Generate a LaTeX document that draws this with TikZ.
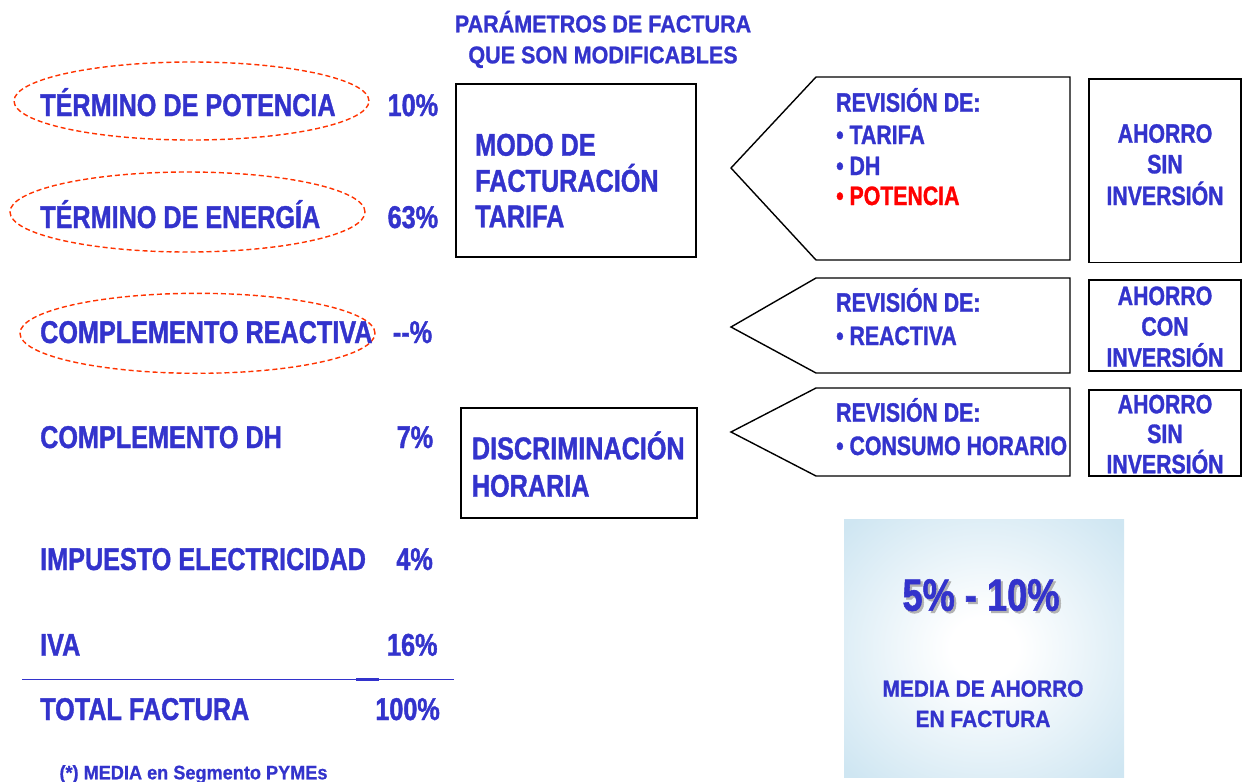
\documentclass[tikz,border=0pt]{standalone}
\usepackage{fontspec}
\setmainfont{Liberation Sans}
\newfontfamily\fcond{Liberation Sans}[FakeStretch=0.8, BoldFeatures={FakeBold=1.2}]
\newfontfamily\ftitle{Liberation Sans}[FakeStretch=0.89, BoldFeatures={FakeBold=1.0}]
\newfontfamily\ffoot{Liberation Sans}[FakeStretch=0.93, BoldFeatures={FakeBold=0.8}]
\usetikzlibrary{shapes.geometric}
\definecolor{txtblue}{RGB}{51,51,204}
\definecolor{ellred}{RGB}{255,51,0}
\definecolor{glowblue}{RGB}{207,230,242}
\definecolor{potred}{RGB}{255,0,0}
\pgfdeclareradialshading{glow}{\pgfpoint{0bp}{0bp}}{color(0bp)=(white); color(6bp)=(white); color(34bp)=(glowblue); color(50bp)=(glowblue)}
\begin{document}
\begin{tikzpicture}[x=1pt,y=-1pt,
  txt/.style={inner sep=0pt, text=txtblue},
  bigf/.style={font=\fcond\bfseries\fontsize{31.5}{36}\selectfont},
  midf/.style={font=\fcond\bfseries\fontsize{26.6}{31}\selectfont},
  lbl/.style={txt, bigf, anchor=base west},
  pct/.style={txt, bigf, anchor=base east},
  rtx/.style={txt, midf, anchor=base west},
  rctr/.style={txt, midf, anchor=base},
  ttl/.style={txt, anchor=base, font=\ftitle\bfseries\fontsize{24.2}{28}\selectfont},
  boxn/.style={draw=black, line width=1.6pt, inner sep=0pt},
  arrshape/.style={draw=black, line width=1.4pt, line join=miter},
  ellmark/.style={ellipse, draw=ellred, line width=1.4pt, dash pattern=on 5pt off 3pt, inner sep=0pt}
]
\useasboundingbox (0,0) rectangle (1248,782);

% title
\node[ttl] (t1) at (603,32.3) {PARÁMETROS DE FACTURA};
\node[ttl] (t2) at (603,63.3) {QUE SON MODIFICABLES};

% ellipses
\node[ellmark, minimum width=355pt, minimum height=78pt] (e1) at (191.5,101) {};
\node[ellmark, minimum width=355pt, minimum height=80pt] (e2) at (187.5,212) {};
\node[ellmark, minimum width=355pt, minimum height=80pt] (e3) at (197.5,333.3) {};

% left column
\node[lbl] (l1) at (40,116) {TÉRMINO DE POTENCIA};
\node[lbl] (l2) at (40,228) {TÉRMINO DE ENERGÍA};
\node[lbl] (l3) at (40,343) {COMPLEMENTO REACTIVA};
\node[lbl] (l4) at (40,448) {COMPLEMENTO DH};
\node[lbl] (l5) at (40,570) {IMPUESTO ELECTRICIDAD};
\node[lbl] (l6) at (40,655.7) {IVA};
\node[lbl] (l7) at (40,720) {TOTAL FACTURA};

\node[pct] (p1) at (438.3,116) {10\%};
\node[pct] (p2) at (438.3,228) {63\%};
\node[pct] (p3) at (432.3,343) {-{}-\%};
\node[pct] (p4) at (433.3,448) {7\%};
\node[pct] (p5) at (433,570) {4\%};
\node[pct] (p6) at (437.7,655.7) {16\%};
\node[pct] (p7) at (440,720) {100\%};

\coordinate (ls) at (22,679.3);
\coordinate (le) at (454,679.3);
\draw[txtblue, line width=1.3pt] (ls) -- (le);
\draw[txtblue, line width=2.6pt] (356,679.3) -- (379,679.3);

\node[txt, anchor=base west, font=\ffoot\bfseries\fontsize{19.5}{23}\selectfont] (fn) at (59.3,779.3) {(*) MEDIA en Segmento PYMEs};

% middle boxes
\node[boxn, minimum width=240pt, minimum height=172.7pt] (m1) at (576,170.35) {};
\node[lbl] (m1a) at (475,155.7) {MODO DE};
\node[lbl] (m1b) at (475,191.7) {FACTURACIÓN};
\node[lbl] (m1c) at (475,227.3) {TARIFA};

\node[boxn, minimum width=236pt, minimum height=110pt] (m2) at (578.7,462.7) {};
\node[lbl] (m2a) at (471.7,459.3) {DISCRIMINACIÓN};
\node[lbl] (m2b) at (471.7,496.7) {HORARIA};

% arrows
\draw[arrshape] (731,168) -- (816,77) -- (1070,77) -- (1070,260) -- (816,260) -- cycle;
\draw[arrshape] (731,327) -- (816,278) -- (1070,278) -- (1070,373) -- (816,373) -- cycle;
\draw[arrshape] (731,432) -- (816,388) -- (1070,388) -- (1070,476) -- (816,476) -- cycle;

\node[rtx] (a1a) at (836,111.7) {REVISIÓN DE:};
\node[rtx] (a1b) at (836,144) {• TARIFA};
\node[rtx] (a1c) at (836,175) {• DH};
\node[rtx, text=potred] (a1d) at (836,205) {• POTENCIA};

\node[rtx] (a2a) at (836,311.7) {REVISIÓN DE:};
\node[rtx] (a2b) at (836,345) {• REACTIVA};

\node[rtx] (a3a) at (836,421.7) {REVISIÓN DE:};
\node[rtx] (a3b) at (836,455) {• CONSUMO HORARIO};

% right boxes
\node[boxn, minimum width=152pt, minimum height=183.3pt] (b1) at (1165,170.65) {};
\node[rctr] (b1a) at (1165,142.7) {AHORRO};
\node[rctr] (b1b) at (1165,173.3) {SIN};
\node[rctr] (b1c) at (1165,205) {INVERSIÓN};

\node[boxn, minimum width=152pt, minimum height=90.7pt] (b2) at (1165,325.35) {};
\node[rctr] (b2a) at (1165,305) {AHORRO};
\node[rctr] (b2b) at (1165,335.7) {CON};
\node[rctr] (b2c) at (1165,366.7) {INVERSIÓN};

\node[boxn, minimum width=152pt, minimum height=86pt] (b3) at (1165,433) {};
\node[rctr] (b3a) at (1165,413.3) {AHORRO};
\node[rctr] (b3b) at (1165,443) {SIN};
\node[rctr] (b3c) at (1165,473.3) {INVERSIÓN};

% savings panel
\shade[shading=glow] (844,519) rectangle (1124,777);
\node[inner sep=0pt, anchor=base, text=black!30, font=\fcond\bfseries\fontsize{45.3}{50}\selectfont] (sv0) at (983.2,612.9) {5\% - 10\%};
\node[txt, anchor=base, font=\fcond\bfseries\fontsize{45.3}{50}\selectfont] (sv) at (981,610.7) {5\% - 10\%};
\node[ttl, font=\ftitle\bfseries\fontsize{23.5}{28}\selectfont] (md1) at (983,696.7) {MEDIA DE AHORRO};
\node[ttl, font=\ftitle\bfseries\fontsize{23.5}{28}\selectfont] (md2) at (983,727) {EN FACTURA};
\end{tikzpicture}
\end{document}
